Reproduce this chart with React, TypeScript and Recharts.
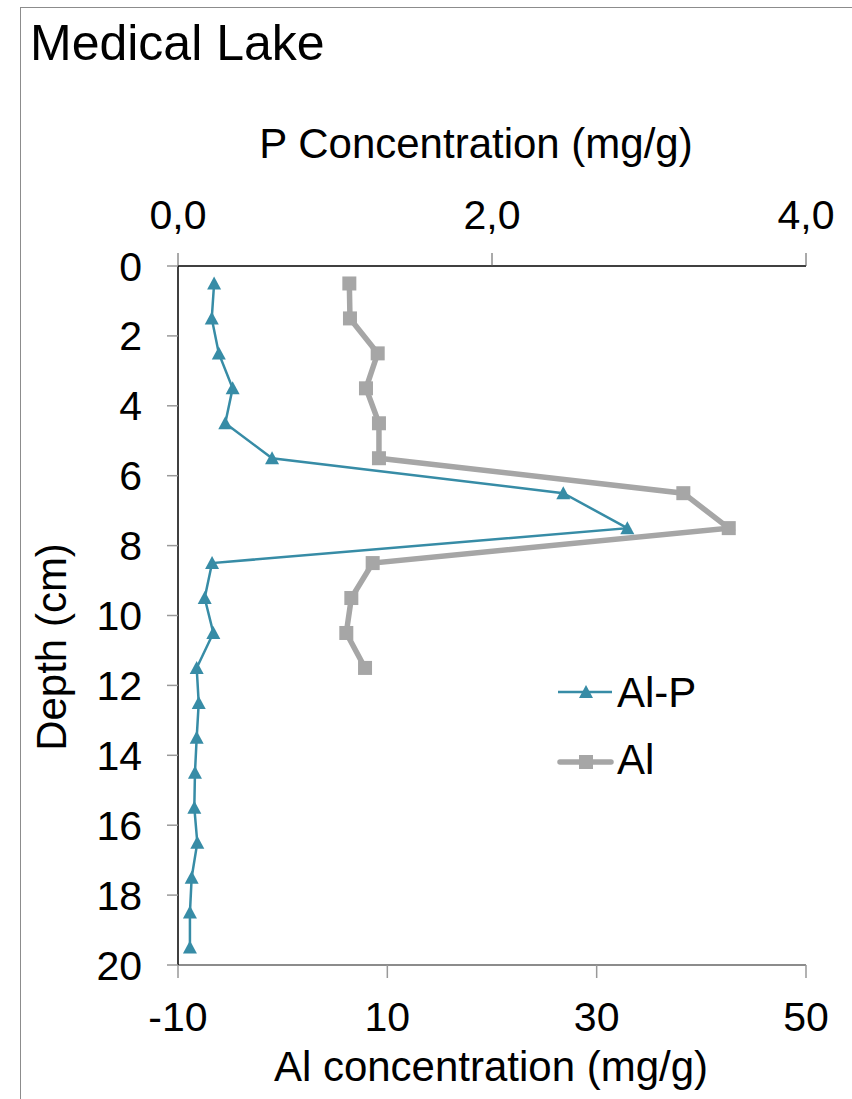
import { ScatterChart, Scatter, XAxis, YAxis } from "recharts"

const FONT = "'Liberation Sans', Arial, sans-serif"
const TEAL = "#378CA6"
const GREY = "#A6A6A6"

// depth (cm) of each slice
const alpDepths = [0.5, 1.5, 2.5, 3.5, 4.5, 5.5, 6.5, 7.5, 8.5, 9.5, 10.5, 11.5, 12.5, 13.5, 14.5, 15.5, 16.5, 17.5, 18.5, 19.5]
// Al-P, read on the top axis (mg/g)
const alpValues = [0.23, 0.215, 0.26, 0.348, 0.301, 0.599, 2.454, 2.862, 0.217, 0.17, 0.225, 0.119, 0.132, 0.119, 0.108, 0.104, 0.123, 0.087, 0.076, 0.076]

const alDepths = [0.5, 1.5, 2.5, 3.5, 4.5, 5.5, 6.5, 7.5, 8.5, 9.5, 10.5, 11.5]
// Al, read on the bottom axis (mg/g)
const alValues = [6.37, 6.43, 9.08, 7.96, 9.2, 9.2, 38.28, 42.62, 8.6, 6.56, 6.08, 7.87]

const depthTicks = [0, 2, 4, 6, 8, 10, 12, 14, 16, 18, 20]
const pTicks = [0, 2, 4]
const alTicks = [-10, 10, 30, 50]

const alpData = alpDepths.map((depth, i) => ({ depth, p: alpValues[i] }))
const alData = alDepths.map((depth, i) => ({ depth, al: alValues[i] }))

const Triangle = (props: any) => {
  const { cx, cy } = props
  if (cx == null || cy == null) return <g />
  return <polygon points={`${cx},${cy - 7} ${cx + 7},${cy + 6} ${cx - 7},${cy + 6}`} fill={TEAL} />
}

const Square = (props: any) => {
  const { cx, cy } = props
  if (cx == null || cy == null) return <g />
  return <rect x={cx - 7} y={cy - 7} width={14} height={14} fill={GREY} />
}

const tickStyle = { fill: "#000", fontSize: 41, fontFamily: FONT }

export default function App() {
  return (
    <div style={{ position: "absolute", left: 0, top: 0, width: 852, height: 1099 }}>
      <div
        style={{
          position: "absolute",
          left: 20,
          top: 7,
          width: 832,
          height: 1092,
          borderTop: "1px solid #8c8c8c",
          borderLeft: "1px solid #8c8c8c",
          boxSizing: "border-box",
        }}
      />
      <div style={{ position: "absolute", left: 0, top: 0 }}>
        <ScatterChart
          width={852}
          height={1099}
          margin={{ top: 0, right: 46, bottom: 0, left: 0 }}
          style={{ fontFamily: FONT }}
        >
          <XAxis
            xAxisId="top"
            orientation="top"
            type="number"
            dataKey="p"
            domain={[0, 4]}
            ticks={pTicks}
            interval={0}
            height={266}
            tickSize={13}
            tickMargin={24}
            tick={tickStyle}
            tickFormatter={(v: number) => v.toFixed(1).replace(".", ",")}
            axisLine={{ stroke: "#000", strokeWidth: 1.5 }}
            tickLine={{ stroke: "#555", strokeWidth: 1 }}
          />
          <XAxis
            xAxisId="bottom"
            orientation="bottom"
            type="number"
            dataKey="al"
            domain={[-10, 50]}
            ticks={alTicks}
            interval={0}
            height={134}
            tickSize={13}
            tickMargin={24}
            tick={tickStyle}
            axisLine={{ stroke: "#8c8c8c", strokeWidth: 2 }}
            tickLine={{ stroke: "#999", strokeWidth: 1.5 }}
          />
          <YAxis
            type="number"
            dataKey="depth"
            domain={[0, 20]}
            reversed
            ticks={depthTicks}
            interval={0}
            width={178}
            tickSize={11}
            tickMargin={25}
            tick={tickStyle}
            axisLine={{ stroke: "#000", strokeWidth: 1.5 }}
            tickLine={{ stroke: "#999", strokeWidth: 1.5 }}
          />
          <Scatter
            name="Al"
            data={alData}
            xAxisId="bottom"
            fill={GREY}
            line={{ stroke: GREY, strokeWidth: 5.5, fill: "none" }}
            shape={Square}
            isAnimationActive={false}
          />
          <Scatter
            name="Al-P"
            data={alpData}
            xAxisId="top"
            fill={TEAL}
            line={{ stroke: TEAL, strokeWidth: 2.5, fill: "none" }}
            shape={Triangle}
            isAnimationActive={false}
          />

          <text x={30} y={60} fontSize={50} fontFamily={FONT} fill="#000">
            Medical Lake
          </text>
          <text x={476} y={158} fontSize={42} fontFamily={FONT} fill="#000" textAnchor="middle">
            P Concentration (mg/g)
          </text>
          <text x={491} y={1081} fontSize={42} fontFamily={FONT} fill="#000" textAnchor="middle">
            Al concentration (mg/g)
          </text>
          <text
            x={66}
            y={647}
            fontSize={42}
            fontFamily={FONT}
            fill="#000"
            textAnchor="middle"
            transform="rotate(-90 66 647)"
          >
            Depth (cm)
          </text>

          <g>
            <line x1={558} y1={692} x2={612} y2={692} stroke={TEAL} strokeWidth={2.5} />
            <polygon points="586,685 593,698 579,698" fill={TEAL} />
            <text x={617} y={707} fontSize={42} fontFamily={FONT} fill="#000">
              Al-P
            </text>
            <line x1={560} y1={762} x2={611} y2={762} stroke={GREY} strokeWidth={5.5} strokeLinecap="round" />
            <rect x={579} y={755} width={14} height={14} fill={GREY} />
            <text x={617} y={774} fontSize={42} fontFamily={FONT} fill="#000">
              Al
            </text>
          </g>
        </ScatterChart>
      </div>
    </div>
  )
}
